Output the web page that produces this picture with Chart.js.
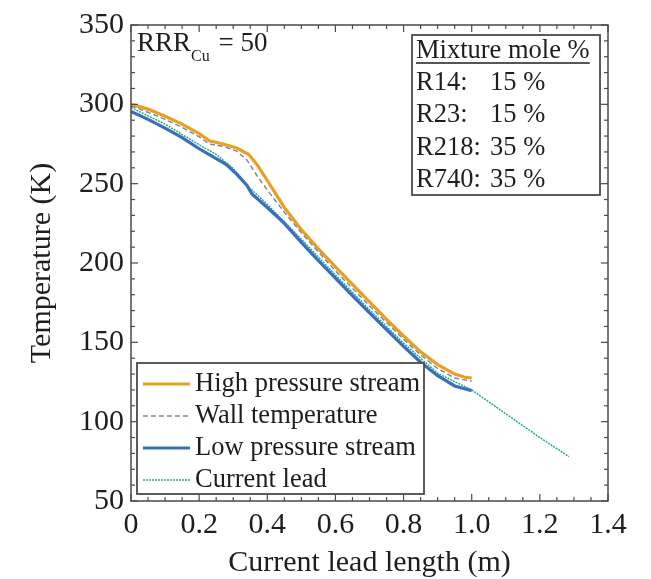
<!DOCTYPE html>
<html>
<head>
<meta charset="utf-8">
<title>Temperature along current lead</title>
<script src="https://cdn.jsdelivr.net/npm/chart.js@4.4.1/dist/chart.umd.min.js"></script>
<style>
    html, body { margin: 0; padding: 0; background: #fff; }
    #wrap { width: 651px; height: 579px; position: relative; }
</style>
</head>
<body>
<div id="wrap"><canvas id="tempChart" width="651" height="579"></canvas></div>
<script>
const SERIF = '"Liberation Serif", "DejaVu Serif", serif';

// High pressure stream
const hpLength = [0, 0.05, 0.1, 0.15, 0.2, 0.23, 0.27, 0.31, 0.345, 0.37, 0.4, 0.45, 0.5, 0.55, 0.6, 0.65, 0.7, 0.75, 0.8, 0.85, 0.9, 0.95, 0.98, 1.0];
const hpTemp   = [300, 297, 292.5, 287.5, 281.5, 277, 275, 272.5, 268.5, 262, 252, 235, 221, 209, 197.5, 186.5, 175.5, 164.5, 154, 144, 136, 130, 128, 127.5];

// Wall temperature
const wallLength = [0, 0.05, 0.1, 0.15, 0.2, 0.23, 0.27, 0.31, 0.34, 0.37, 0.4, 0.45, 0.5, 0.55, 0.6, 0.65, 0.7, 0.75, 0.8, 0.85, 0.9, 0.95, 1.0];
const wallTemp   = [299, 295, 290.5, 285.5, 279.5, 275, 273.5, 270.5, 265, 255, 246, 232, 219, 207, 195, 184, 173, 162.5, 152, 142, 133.5, 127.5, 125.5];

// Low pressure stream
const lpLength = [0, 0.05, 0.1, 0.15, 0.2, 0.24, 0.28, 0.31, 0.34, 0.355, 0.4, 0.45, 0.5, 0.55, 0.6, 0.65, 0.7, 0.75, 0.8, 0.85, 0.9, 0.95, 1.0];
const lpTemp   = [295.5, 290.5, 285, 279, 272, 267, 262, 256, 249, 243.5, 235, 225, 213, 201.5, 190.5, 179.5, 168.5, 158, 147.5, 137.5, 129, 122.5, 119.5];

// Current lead
const leadLength = [0, 0.1, 0.2, 0.25, 0.3, 0.35, 0.4, 0.5, 0.6, 0.7, 0.8, 0.9, 1.0, 1.1, 1.2, 1.285];
const leadTemp   = [298, 287.5, 274.5, 268.5, 259.5, 247, 237, 215, 192.5, 170.5, 149.5, 130.5, 120, 105, 90, 78];

const xTicks = [0, 0.2, 0.4, 0.6, 0.8, 1.0, 1.2, 1.4];
const yTicks = [50, 100, 150, 200, 250, 300, 350];
const xMinorStep = 0.05;
const yMinorStep = 10;

const seriesLabels = ['High pressure stream', 'Wall temperature', 'Low pressure stream', 'Current lead'];
const mixtureTitle = 'Mixture mole %';
const mixtureNames = ['R14:', 'R23:', 'R218:', 'R740:'];
const mixtureShares = ['15 %', '15 %', '35 %', '35 %'];

const COLORS = { high: '#e8a024', wall: '#858585', low: '#3a6fbd', lead: '#2aa68c', frame: '#4a4a4a', text: '#1e1e1e' };
const BOX_FONT = '26.5px ' + SERIF;

const toPoints = (xs, ys) => xs.map((x, i) => ({ x, y: ys[i] }));

const lineDefaults = { showLine: true, pointRadius: 0, pointHoverRadius: 0, fill: false, tension: 0 };

// frame on all four sides, inward major/minor ticks, legend + annotation boxes
const decorations = {
    id: 'decorations',
    afterDraw(chart) {
        const { ctx, chartArea: a, scales: { x, y } } = chart;
        ctx.save();
        ctx.strokeStyle = COLORS.frame;
        ctx.lineWidth = 1.5;
        ctx.strokeRect(a.left, a.top, a.right - a.left, a.bottom - a.top);

        const tick = (x1, y1, x2, y2) => { ctx.beginPath(); ctx.moveTo(x1, y1); ctx.lineTo(x2, y2); ctx.stroke(); };
        ctx.lineWidth = 1.2;
        for (let v = 0; v <= 1.4 + 1e-9; v += xMinorStep) {
            const major = xTicks.some(t => Math.abs(t - v) < 1e-6);
            const len = major ? 7 : 4;
            const px = x.getPixelForValue(v);
            tick(px, a.bottom, px, a.bottom - len);
            tick(px, a.top, px, a.top + len);
        }
        for (let v = 50; v <= 350; v += yMinorStep) {
            const major = yTicks.includes(v);
            const len = major ? 7 : 4;
            const py = y.getPixelForValue(v);
            tick(a.left, py, a.left + len, py);
            tick(a.right, py, a.right - len, py);
        }

        ctx.fillStyle = COLORS.text;
        ctx.textBaseline = 'middle';
        ctx.textAlign = 'left';

        // RRR_Cu = 50
        ctx.font = '27px ' + SERIF;
        ctx.fillText('RRR', a.left + 6, a.top + 19);
        const rrrW = ctx.measureText('RRR').width;
        ctx.font = '16px ' + SERIF;
        ctx.fillText('Cu', a.left + 6 + rrrW, a.top + 32);
        const cuW = ctx.measureText('Cu').width;
        ctx.font = '27px ' + SERIF;
        ctx.fillText(' = 50', a.left + 6 + rrrW + cuW + 2, a.top + 19);

        // mixture box
        const mb = { left: 412, top: 35, right: 600, bottom: 195 };
        ctx.fillStyle = '#fff';
        ctx.fillRect(mb.left, mb.top, mb.right - mb.left, mb.bottom - mb.top);
        ctx.strokeStyle = COLORS.frame;
        ctx.lineWidth = 1.8;
        ctx.strokeRect(mb.left, mb.top, mb.right - mb.left, mb.bottom - mb.top);
        ctx.fillStyle = COLORS.text;
        ctx.font = BOX_FONT;
        ctx.fillText(mixtureTitle, mb.left + 4, 51);
        const titleW = ctx.measureText(mixtureTitle).width;
        ctx.lineWidth = 1.5;
        ctx.strokeStyle = COLORS.text;
        tick(mb.left + 4, 63, mb.left + 4 + titleW, 63);
        mixtureNames.forEach((name, i) => {
            const cy = 83 + i * 32.5;
            ctx.fillText(name, mb.left + 4, cy);
            ctx.fillText(mixtureShares[i], 490, cy);
        });

        // series legend box
        const lb = { left: 137, top: 363, right: 424, bottom: 494 };
        ctx.fillStyle = '#fff';
        ctx.fillRect(lb.left, lb.top, lb.right - lb.left, lb.bottom - lb.top);
        ctx.strokeStyle = COLORS.frame;
        ctx.lineWidth = 1.8;
        ctx.strokeRect(lb.left, lb.top, lb.right - lb.left, lb.bottom - lb.top);
        chart.data.datasets.forEach((ds, i) => {
            const cy = 384 + i * 32;
            ctx.save();
            ctx.strokeStyle = ds.borderColor;
            ctx.lineWidth = ds.borderWidth;
            ctx.setLineDash(ds.borderDash || []);
            tick(143, cy, 190, cy);
            ctx.restore();
            ctx.fillStyle = COLORS.text;
            ctx.font = BOX_FONT;
            ctx.fillText(ds.label, 195, cy);
        });
        ctx.restore();
    }
};

new Chart(document.getElementById('tempChart'), {
    type: 'scatter',
    data: {
        datasets: [
            { ...lineDefaults, label: seriesLabels[0], data: toPoints(hpLength, hpTemp), borderColor: COLORS.high, borderWidth: 3.2, order: 3 },
            { ...lineDefaults, label: seriesLabels[1], data: toPoints(wallLength, wallTemp), borderColor: COLORS.wall, borderWidth: 1.4, borderDash: [5, 3], order: 2 },
            { ...lineDefaults, label: seriesLabels[2], data: toPoints(lpLength, lpTemp), borderColor: COLORS.low, borderWidth: 3.2, order: 4 },
            { ...lineDefaults, label: seriesLabels[3], data: toPoints(leadLength, leadTemp), borderColor: COLORS.lead, borderWidth: 1.5, borderDash: [2, 1], order: 5 }
        ]
    },
    options: {
        responsive: false,
        animation: false,
        layout: { padding: { top: 25, right: 43, left: 0, bottom: 0 } },
        plugins: { legend: { display: false }, tooltip: { enabled: false } },
        scales: {
            x: {
                type: 'linear', min: 0, max: 1.4,
                afterBuildTicks: s => { s.ticks = xTicks.map(v => ({ value: v })); },
                afterFit: s => { s.height = 78; },
                ticks: { color: COLORS.text, padding: 6, maxRotation: 0, font: { family: SERIF, size: 30 },
                    callback: v => v === 0 ? '0' : v.toFixed(1) },
                grid: { display: false, drawTicks: false },
                border: { display: false },
                title: { display: true, text: 'Current lead length (m)', color: COLORS.text, font: { family: SERIF, size: 30 }, padding: { top: 0, bottom: -2 } }
            },
            y: {
                type: 'linear', min: 50, max: 350,
                afterBuildTicks: s => { s.ticks = yTicks.map(v => ({ value: v })); },
                afterFit: s => { s.width = 131; },
                ticks: { color: COLORS.text, padding: 7, font: { family: SERIF, size: 30 } },
                grid: { display: false, drawTicks: false },
                border: { display: false },
                title: { display: true, text: 'Temperature (K)', color: COLORS.text, font: { family: SERIF, size: 30 }, padding: { top: 24, bottom: 0 } }
            }
        }
    },
    plugins: [decorations]
});
</script>
</body>
</html>
